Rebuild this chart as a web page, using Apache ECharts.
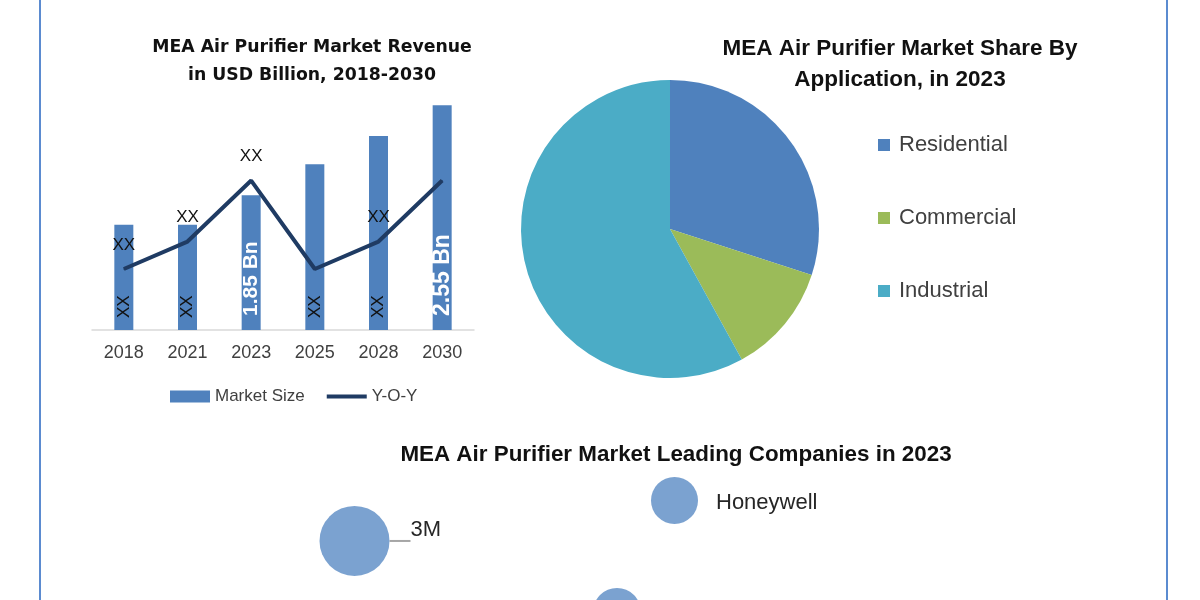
<!DOCTYPE html>
<html>
<head>
<meta charset="utf-8">
<script src="https://cdn.jsdelivr.net/npm/echarts@6/dist/echarts.min.js"></script>
<style>html,body{margin:0;padding:0;background:#fff}#c{width:1200px;height:600px}</style>
</head>
<body>
<div id="c"></div>
<script>
// ---- data ----
var years = ['2018', '2021', '2023', '2025', '2028', '2030'];
var marketSize = [1.62, 1.62, 1.85, 2.09, 2.31, 2.55];
var marketLabels = ['XX', 'XX', '1.85 Bn', 'XX', 'XX', '2.55 Bn'];
var yoy = [2.0, 2.9, 4.9, 2.0, 2.9, 4.9];
var yoyLabels = ['XX', 'XX', 'XX', '', 'XX', ''];

var applications = ['Residential', 'Commercial', 'Industrial'];
var applicationShare = [30, 12, 58];

var companies = ['3M', 'Honeywell', ''];
var companyX = [1.09, 7.49, 6.34];
var companyY = [4.94, 7.47, 0.5];
var companySize = [7.0, 4.7, 4.8];

var barColor = '#4f81bd';
var lineColor = '#1f3b63';
var pieColors = ['#4f81bd', '#9bbb59', '#4bacc6'];
var bubbleColor = '#7ba2d0';
var narrowFont = '"Liberation Sans Narrow", "Liberation Sans", sans-serif';

var chart = echarts.init(document.getElementById('c'), null, {renderer: 'canvas'});

var barData = marketSize.map(function (v, i) {
  var big = marketLabels[i] !== 'XX';
  return {
    value: v,
    label: big ? {color: '#ffffff', fontWeight: 'bold', fontFamily: 'Liberation Sans', fontSize: i === 5 ? 23 : 21, distance: 14}
               : {color: '#111111', fontFamily: narrowFont, fontSize: 17, distance: 12}
  };
});
var lineData = yoy.map(function (v, i) {
  return {value: v, label: {show: yoyLabels[i] !== ''}};
});

var option = {
  animation: false,
  color: pieColors,
  title: [
    {text: 'MEA Air Purifier Market Revenue\nin USD Billion, 2018-2030', left: 307, top: 29, textAlign: 'center',
     textStyle: {fontFamily: 'DejaVu Sans', fontWeight: 'bold', fontSize: 17.3, lineHeight: 28, color: '#111'}},
    {text: 'MEA Air Purifier Market Share By\nApplication, in 2023', left: 895, top: 28, textAlign: 'center',
     textStyle: {fontFamily: 'Liberation Sans', fontWeight: 'bold', fontSize: 22.5, lineHeight: 31, color: '#111'}},
    {text: 'MEA Air Purifier Market Leading Companies in 2023', left: 671, top: 437, textAlign: 'center',
     textStyle: {fontFamily: 'Liberation Sans', fontWeight: 'bold', fontSize: 22.4, lineHeight: 26, color: '#111'}}
  ],
  legend: [
    {left: 170, top: 388, padding: 0, itemWidth: 40, itemHeight: 12, itemGap: 22,
     data: [{name: 'Market Size', icon: 'rect'},
            {name: 'Y-O-Y', icon: 'path://M0,0 M0,4 L40,4 L40,8 L0,8 Z M40,12'}],
     textStyle: {fontFamily: 'Liberation Sans', fontSize: 17, color: '#404040'}},
    {left: 878, top: 133, padding: 0, orient: 'vertical', itemWidth: 12, itemHeight: 12, itemGap: 49,
     data: applications, icon: 'rect',
     textStyle: {fontFamily: 'Liberation Sans', fontSize: 22, lineHeight: 24, color: '#404040', padding: [0, 0, 0, 4]}}
  ],
  grid: [
    {left: 92, right: 726, top: 86, bottom: 270, outerBoundsMode: 'none'},
    {left: 300, width: 500, top: 460, height: 160, outerBoundsMode: 'none'}
  ],
  xAxis: [
    {type: 'category', data: years, gridIndex: 0,
     axisLine: {lineStyle: {color: '#d9d9d9', width: 1.5}}, axisTick: {show: false},
     axisLabel: {fontFamily: 'Liberation Sans', fontSize: 18, color: '#404040', margin: 14}},
    {type: 'value', gridIndex: 1, min: 0, max: 10, show: false}
  ],
  yAxis: [
    {type: 'value', gridIndex: 0, min: 0.8, max: 2.7, show: false, splitLine: {show: false}},
    {type: 'value', gridIndex: 0, min: 0, max: 8, show: false, splitLine: {show: false}},
    {type: 'value', gridIndex: 1, min: 0, max: 10, show: false}
  ],
  series: [
    {name: 'Market Size', type: 'bar', xAxisIndex: 0, yAxisIndex: 0, barWidth: 19,
     itemStyle: {color: barColor}, data: barData,
     label: {show: true, position: 'insideBottom', rotate: 90, align: 'left', verticalAlign: 'middle',
             formatter: function (p) { return marketLabels[p.dataIndex]; }}},
    {name: 'Y-O-Y', type: 'line', xAxisIndex: 0, yAxisIndex: 1, symbol: 'circle', symbolSize: 1, showSymbol: true,
     lineStyle: {color: lineColor, width: 4}, itemStyle: {color: lineColor}, data: lineData,
     label: {show: true, position: 'top', distance: 15, fontFamily: narrowFont, fontSize: 17, color: '#111',
             formatter: function (p) { return yoyLabels[p.dataIndex]; }}},
    {name: 'Application', type: 'pie', center: [670, 229], radius: 149, startAngle: 90, clockwise: true,
     label: {show: false}, labelLine: {show: false},
     data: applications.map(function (n, i) { return {name: n, value: applicationShare[i], itemStyle: {color: pieColors[i]}}; })},
    {name: 'Companies', type: 'scatter', xAxisIndex: 1, yAxisIndex: 2, clip: false,
     itemStyle: {color: bubbleColor, opacity: 1},
     symbolSize: function (v) { return v[2] * 10; },
     data: companies.map(function (n, i) {
       return {name: n, value: [companyX[i], companyY[i], companySize[i]],
               label: {show: n !== '', offset: i === 0 ? [0, -11] : [0, 2], distance: i === 0 ? 21 : 18},
               labelLine: {show: i === 0, lineStyle: {color: '#a6a6a6', width: 2}}};
     }),
     label: {position: 'right', fontFamily: 'Liberation Sans', fontSize: 22, color: '#262626',
             formatter: function (p) { return p.name; }}}
  ],
  graphic: [
    {type: 'line', shape: {x1: 40, y1: 0, x2: 40, y2: 600}, style: {stroke: '#5b8bd0', lineWidth: 2}},
    {type: 'line', shape: {x1: 1167, y1: 0, x2: 1167, y2: 600}, style: {stroke: '#5b8bd0', lineWidth: 2}}
  ]
};
chart.setOption(option);
</script>
</body>
</html>
